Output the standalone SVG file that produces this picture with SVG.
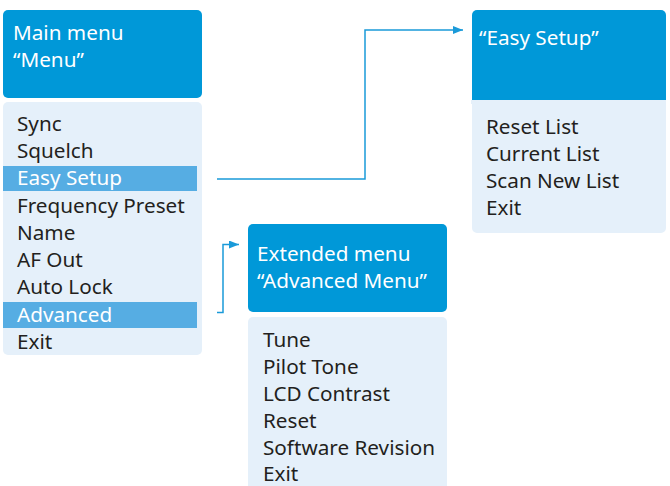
<svg xmlns="http://www.w3.org/2000/svg" width="670" height="486" viewBox="0 0 670 486">
<defs>
<style>
.hdr{fill:#0098d8}
.lst{fill:#e5f0fa}
.hl{fill:#56ade3}
.t{font-family:"Noto Sans","Open Sans",sans-serif;font-size:20.7px;fill:#231f20}
.w{font-family:"Noto Sans","Open Sans",sans-serif;font-size:20.7px;fill:#ffffff}
.c{fill:none;stroke:#1a9ad9;stroke-width:1.5}
</style>
<marker id="ah" markerWidth="10" markerHeight="8" refX="10" refY="4" orient="auto" markerUnits="userSpaceOnUse">
<path d="M0,0 L10,4 L0,8 Z" fill="#1a9ad9"/>
</marker>
</defs>
<rect width="670" height="486" fill="#ffffff"/>
<g id="main-menu">
<rect class="hdr" x="3" y="10" width="199" height="88" rx="5"/>
<text class="w" x="13" y="39.5">Main menu</text>
<text class="w" x="13" y="66.5">“Menu”</text>
<rect class="lst" x="3" y="102" width="199" height="253" rx="5"/>
<rect class="hl" x="3" y="166" width="194" height="25"/>
<rect class="hl" x="3" y="302" width="194" height="26"/>
<text class="t" x="17" y="131">Sync</text>
<text class="t" x="17" y="158">Squelch</text>
<text class="w" x="17" y="185">Easy Setup</text>
<text class="t" x="17" y="212.5">Frequency Preset</text>
<text class="t" x="17" y="239.5">Name</text>
<text class="t" x="17" y="267">AF Out</text>
<text class="t" x="17" y="294">Auto Lock</text>
<text class="w" x="17" y="321.5">Advanced</text>
<text class="t" x="17" y="348.5">Exit</text>
</g>
<g id="easy-setup">
<path class="hdr" d="M472,100 V15 A5,5 0 0 1 477,10 H661 A5,5 0 0 1 666,15 V100 Z"/>
<text class="w" x="479" y="45">“Easy Setup”</text>
<path class="lst" d="M471,100 H666 V228 A5,5 0 0 1 661,233 H477 A5,5 0 0 1 472,228 V104 H471 Z"/>
<text class="t" x="486" y="133.5">Reset List</text>
<text class="t" x="486" y="160.5">Current List</text>
<text class="t" x="486" y="188">Scan New List</text>
<text class="t" x="486" y="215">Exit</text>
</g>
<g id="advanced-menu">
<rect class="hdr" x="248" y="224" width="199" height="88" rx="5"/>
<text class="w" x="257" y="261">Extended menu</text>
<text class="w" x="257" y="287.5">“Advanced Menu”</text>
<path class="lst" d="M248,486 V322 A5,5 0 0 1 253,317 H442 A5,5 0 0 1 447,322 V486 Z"/>
<text class="t" x="263" y="347">Tune</text>
<text class="t" x="263" y="374">Pilot Tone</text>
<text class="t" x="263" y="401">LCD Contrast</text>
<text class="t" x="263" y="428">Reset</text>
<text class="t" x="263" y="454.5">Software Revision</text>
<text class="t" x="263" y="480.5">Exit</text>
</g>
<g id="connectors">
<path class="c" d="M217,179 H365 V30 H463" marker-end="url(#ah)"/>
<path class="c" d="M217,312.5 H223 V244.5 H239" marker-end="url(#ah)"/>
</g>
</svg>
